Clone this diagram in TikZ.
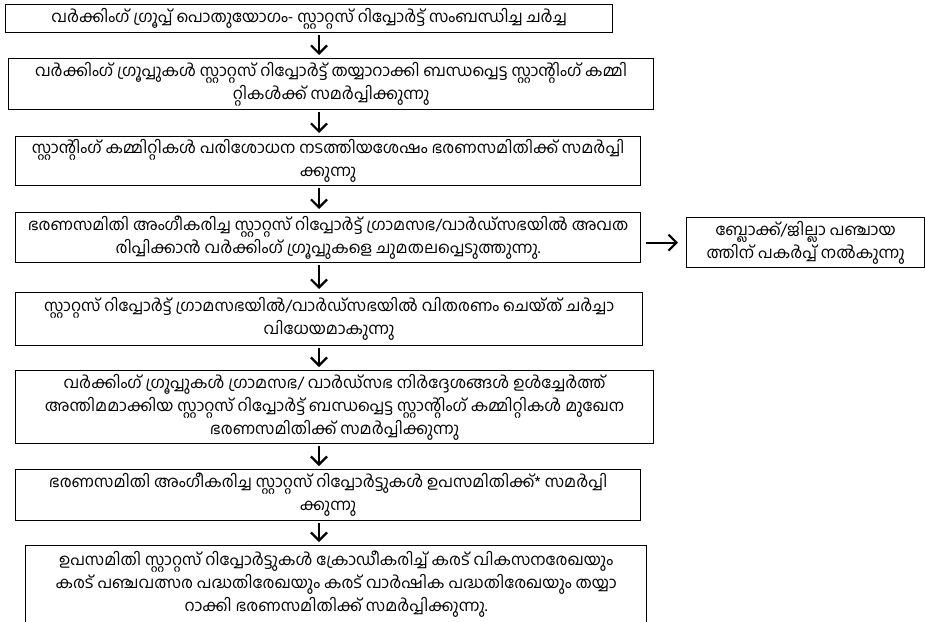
\documentclass[tikz,border=0pt]{standalone}
\usepackage{fontspec}
\newfontfamily\mlfont[Script=Malayalam]{Hind Kochi}
\usetikzlibrary{arrows.meta}
\begin{document}
\begin{tikzpicture}[x=1pt,y=-1pt,
  box/.style={draw, line width=1.2pt, anchor=north west, align=center, inner sep=0pt,
    font=\mlfont\fontsize{16}{23}\selectfont},
  arr/.style={line width=2.2pt, -{Straight Barb[length=8pt,width=16pt]}, shorten <=2pt, shorten >=3pt}]
\useasboundingbox (0,0) rectangle (925,621);
\coordinate (ax) at (319,0);
\node[box, minimum width=607, minimum height=28] (b1) at (5,4)
 {വർക്കിംഗ് ഗ്രൂപ്പ് പൊതുയോഗം- സ്റ്റാറ്റസ് റിപ്പോർട്ട് സംബന്ധിച്ച ചർച്ച};
\node[box, minimum width=645, minimum height=51] (b2) at (8,58)
 {വർക്കിംഗ് ഗ്രൂപ്പുകൾ സ്റ്റാറ്റസ് റിപ്പോർട്ട് തയ്യാറാക്കി ബന്ധപ്പെട്ട സ്റ്റാന്റിംഗ് കമ്മി\\റ്റികൾക്ക് സമർപ്പിക്കുന്നു};
\node[box, minimum width=625, minimum height=49] (b3) at (15,136)
 {സ്റ്റാന്റിംഗ് കമ്മിറ്റികൾ പരിശോധന നടത്തിയശേഷം ഭരണസമിതിക്ക് സമർപ്പി\\ക്കുന്നു};
\node[box, minimum width=625, minimum height=50] (b4) at (15,212)
 {ഭരണസമിതി അംഗീകരിച്ച സ്റ്റാറ്റസ് റിപ്പോർട്ട് ഗ്രാമസഭ/വാർഡ്സഭയിൽ അവത\\രിപ്പിക്കാൻ വർക്കിംഗ് ഗ്രൂപ്പുകളെ ചുമതലപ്പെടുത്തുന്നു.};
\node[box, minimum width=238, minimum height=50] (side) at (686,217)
 {ബ്ലോക്ക്/ജില്ലാ പഞ്ചായ\\ത്തിന് പകർപ്പ് നൽകുന്നു};
\node[box, minimum width=627, minimum height=53] (b5) at (15,292)
 {സ്റ്റാറ്റസ് റിപ്പോർട്ട് ഗ്രാമസഭയിൽ/വാർഡ്സഭയിൽ വിതരണം ചെയ്ത് ചർച്ചാ\\വിധേയമാകുന്നു};
\node[box, minimum width=638, minimum height=73] (b6) at (15,370)
 {വർക്കിംഗ് ഗ്രൂപ്പുകൾ ഗ്രാമസഭ/ വാർഡ്സഭ നിർദ്ദേശങ്ങൾ ഉൾച്ചേർത്ത്\\അന്തിമമാക്കിയ സ്റ്റാറ്റസ് റിപ്പോർട്ട് ബന്ധപ്പെട്ട സ്റ്റാന്റിംഗ് കമ്മിറ്റികൾ മുഖേന\\ഭരണസമിതിക്ക് സമർപ്പിക്കുന്നു};
\node[box, minimum width=625, minimum height=51] (b7) at (15,469)
 {ഭരണസമിതി അംഗീകരിച്ച സ്റ്റാറ്റസ് റിപ്പോർട്ടുകൾ ഉപസമിതിക്ക്* സമർപ്പി\\ക്കുന്നു};
\node[box, minimum width=621, minimum height=78] (b8) at (25,545)
 {ഉപസമിതി സ്റ്റാറ്റസ് റിപ്പോർട്ടുകൾ ക്രോഡീകരിച്ച് കരട് വികസനരേഖയും\\കരട് പഞ്ചവത്സര പദ്ധതിരേഖയും കരട് വാർഷിക പദ്ധതിരേഖയും തയ്യാ\\റാക്കി ഭരണസമിതിക്ക് സമർപ്പിക്കുന്നു.};
\draw[arr] (b1.south -| ax) -- (b2.north -| ax);
\draw[arr] (b2.south -| ax) -- (b3.north -| ax);
\draw[arr] (b3.south -| ax) -- (b4.north -| ax);
\draw[arr] (b4.south -| ax) -- (b5.north -| ax);
\draw[arr] (b5.south -| ax) -- (b6.north -| ax);
\draw[arr] (b6.south -| ax) -- (b7.north -| ax);
\draw[arr] (b7.south -| ax) -- (b8.north -| ax);
\draw[arr, shorten <=5pt, shorten >=8pt] (b4.east |- side.west) -- (side.west);
\end{tikzpicture}
\end{document}
